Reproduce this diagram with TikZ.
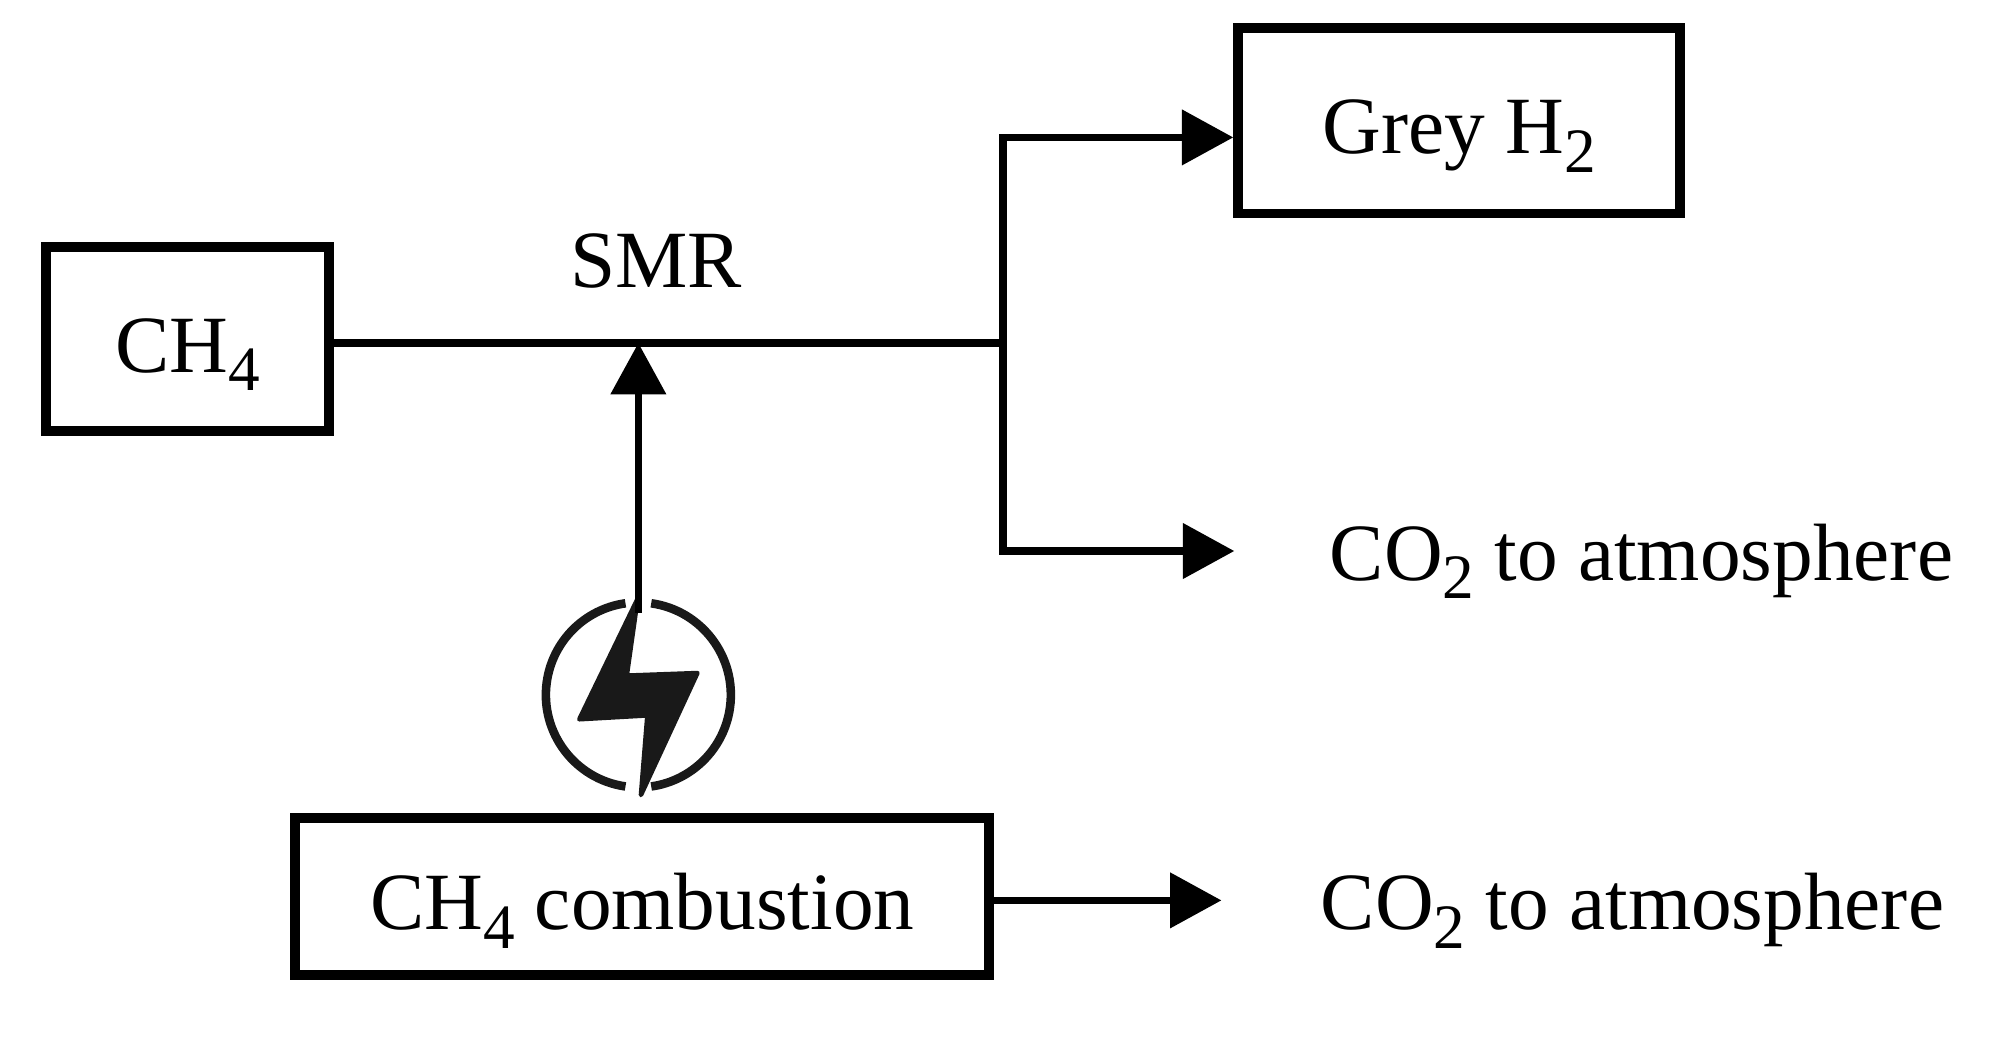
\documentclass[tikz,border=0pt]{standalone}
\usepackage{fontspec}
\setmainfont{Liberation Serif}
\usetikzlibrary{arrows.meta, positioning}
\newcommand{\lowtwo}[1]{\raisebox{-0.5ex}{\fontsize{14}{14}\selectfont #1}}

\begin{document}
\begin{tikzpicture}[
        x=0.01cm,
        y=-0.01cm,
        >={Triangle[length=4mm,width=4.2mm]},
        line width=1.7pt,
        block/.style={rectangle, draw, line width=2.1pt, inner sep=0pt, text height=14.6pt, text depth=0pt, font=\fontsize{18}{22}\selectfont},
        label/.style={inner sep=0pt, font=\fontsize{18}{22}\selectfont},
        ring/.style={line width=1.9pt, draw=black!90}
    ]
        \useasboundingbox (0,0) rectangle (1568,807);

        % Boxes
        \node[block, minimum width=2.2cm, minimum height=1.43cm] (CH) at (146,264) {CH\lowtwo{4}};
        \node[block, minimum width=3.44cm, minimum height=1.44cm] (H) at (1136,94) {Grey H\lowtwo{2}};
        \node[block, minimum width=5.4cm, minimum height=1.22cm] (Comb) at (500,698) {CH\lowtwo{4} combustion};

        % Labels
        \node[label] (SMR) at (511,203) {SMR};
        \node[label] (COa) at (1278,437) {CO\lowtwo{2} to atmosphere};
        \node[label] (COb) at (1271,709) {CO\lowtwo{2} to atmosphere};

        % Bolt icon
        \node[circle, minimum size=1.42cm, inner sep=0pt] (icon) at (497,541) {};
        \draw[ring] (icon.center) ++(98:72) arc (98:262:72);
        \draw[ring] (icon.center) ++(-82:72) arc (-82:82:72);
        \fill[black!90, draw=black!90, line width=1pt, line join=round] (icon.center) ++(-0.5,-75) -- ++(-8.5,60) -- ++(55,-2) -- ++(-44,95)
            -- ++(5,-62) -- ++(-53,3) -- cycle;

        % Free ends and bends
        \coordinate (join) at (781,267);
        \coordinate (upper) at (781,107);
        \coordinate (lower) at (781,429);
        \coordinate (heat) at (497,267);
        \coordinate (tipa) at (961,429);
        \coordinate (tipb) at (951,701);

        % CH4 to outlets
        \draw (CH.east |- join) -- (join);
        \draw[->] (join) -- (upper) -- (upper -| H.west);
        \draw[->] (join) -- (lower) -- (tipa);

        % Combustion heat and flue gas
        \draw[->] (icon.north) ++(0,10) -- (heat);
        \draw[->] (Comb.east |- tipb) -- (tipb);

    \end{tikzpicture}
\end{document}
